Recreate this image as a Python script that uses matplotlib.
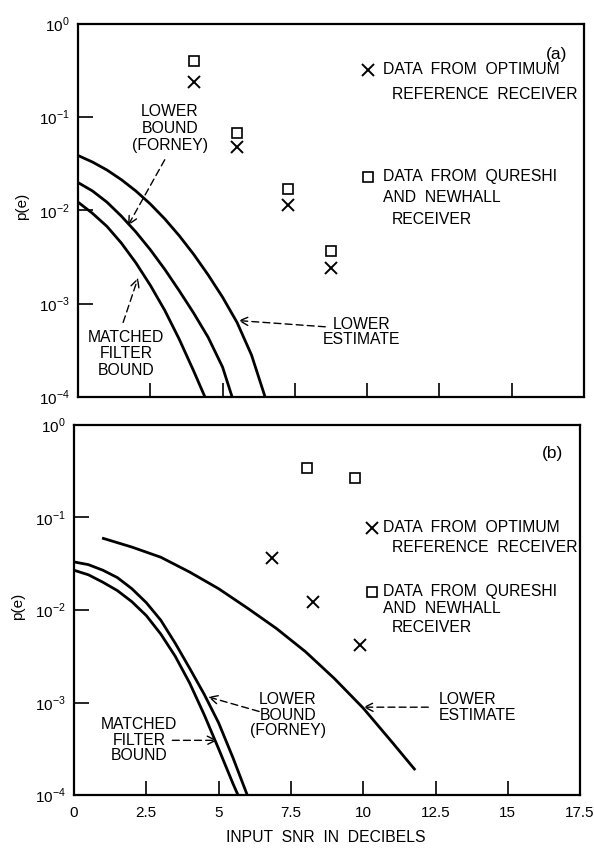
import matplotlib
matplotlib.use('Agg')
import matplotlib.pyplot as plt

plt.rcParams['font.family'] = ['Liberation Sans', 'DejaVu Sans']
plt.rcParams['mathtext.fontset'] = 'custom'
plt.rcParams['mathtext.rm'] = 'Liberation Sans'

# Panel (a) data
a_est_x = [0.0, 0.5, 1.0, 1.5, 2.0, 2.5, 3.0, 3.5, 4.0, 4.5, 5.0, 5.5, 6.0, 6.47]
a_est_p = [0.0389, 0.0331, 0.0272, 0.0214, 0.0162, 0.01175, 0.00813, 0.00537, 0.00339,
           0.00204, 0.001175, 6.3e-4, 2.82e-4, 1.0e-4]
a_forney_x = [0.0, 0.5, 1.0, 1.5, 2.0, 2.5, 3.0, 3.5, 4.0, 4.5, 5.0, 5.33]
a_forney_p = [0.01995, 0.0162, 0.0123, 0.0087, 0.00589, 0.0038, 0.00234, 0.00138, 7.94e-4,
              4.37e-4, 2.09e-4, 1.0e-4]
a_match_x = [0.0, 0.5, 1.0, 1.5, 2.0, 2.5, 3.0, 3.5, 4.0, 4.39]
a_match_p = [0.0123, 0.00933, 0.00676, 0.00447, 0.00275, 0.00158, 8.5e-4, 4.17e-4, 1.9e-4, 1.0e-4]
a_opt_x = [4.0, 5.5, 7.25, 8.75]
a_opt_p = [0.24, 0.048, 0.0115, 0.0024]
a_qn_x = [4.0, 5.5, 7.25, 8.75]
a_qn_p = [0.40, 0.067, 0.017, 0.0037]

# Panel (b) data
b_est_x = [0.97, 2.0, 3.0, 4.0, 5.0, 6.0, 7.0, 8.0, 9.0, 10.0, 11.0, 11.8]
b_est_p = [0.060, 0.0479, 0.0372, 0.0257, 0.0170, 0.01047, 0.00631, 0.00355, 0.00182,
           8.7e-4, 3.72e-4, 1.86e-4]
b_forney_x = [0.0, 0.5, 1.0, 1.5, 2.0, 2.5, 3.0, 3.5, 4.0, 4.5, 5.0, 5.5, 5.99]
b_forney_p = [0.0331, 0.0309, 0.0269, 0.0224, 0.0170, 0.0120, 0.00776, 0.00437, 0.00234,
              0.00123, 6.03e-4, 2.51e-4, 1.0e-4]
b_match_x = [0.0, 0.5, 1.0, 1.5, 2.0, 2.5, 3.0, 3.5, 4.0, 4.5, 5.0, 5.5, 5.67]
b_match_p = [0.0269, 0.024, 0.01995, 0.0162, 0.0123, 0.0087, 0.0055, 0.00316, 0.00162,
             7.4e-4, 3.16e-4, 1.32e-4, 1.0e-4]
b_opt_x = [6.85, 8.27, 9.9]
b_opt_p = [0.0365, 0.0122, 0.0042]
b_qn_x = [8.06, 9.72]
b_qn_p = [0.34, 0.27]

x_ticks = [0, 2.5, 5, 7.5, 10, 12.5, 15, 17.5]
x_tick_labels = ['0', '2.5', '5', '7.5', '10', '12.5', '15', '17.5']
y_ticks = [1e-4, 1e-3, 1e-2, 1e-1, 1e0]
y_tick_labels = [r'$10^{-4}$', r'$10^{-3}$', r'$10^{-2}$', r'$10^{-1}$', r'$10^{0}$']

FS = 11.3
arrow = dict(arrowstyle='->', color='black', lw=1.0, linestyle=(0, (5, 3)),
             shrinkA=0, shrinkB=0, mutation_scale=15)


def style_axes(ax, show_xlabels):
    ax.set_yscale('log')
    ax.set_xlim(0, 17.5)
    ax.set_ylim(1e-4, 1)
    ax.set_xticks(x_ticks)
    ax.set_xticklabels(x_tick_labels if show_xlabels else [])
    ax.set_yticks(y_ticks)
    ax.set_yticklabels(y_tick_labels)
    ax.minorticks_off()
    ax.tick_params(axis='both', direction='in', width=1.2, labelsize=11)
    ax.tick_params(axis='x', length=10, pad=8)
    ax.tick_params(axis='y', length=11, pad=6)
    for s in ax.spines.values():
        s.set_linewidth(1.6)
    ax.text(-0.11, 0.51, 'p(e)', transform=ax.transAxes, rotation=90,
            ha='center', va='center', fontsize=11)


def legend_block(ax, mx, lines_x, lines_sq):
    ax.plot([mx], [lines_x[0][1]], 'kx', ms=8, mew=1.4, transform=ax.transAxes, clip_on=False)
    ax.plot([mx], [lines_sq[0][1]], 's', ms=6.5, mfc='none', mec='black', mew=1.2,
            transform=ax.transAxes, clip_on=False)
    for x, y, s in lines_x + lines_sq:
        ax.text(x, y, s, transform=ax.transAxes, fontsize=FS, va='center', ha='left')


def draw_panel(ax, curves, opt_x, opt_p, qn_x, qn_p):
    for xs, ps in curves:
        ax.plot(xs, ps, color='black', lw=2.0, solid_capstyle='butt', solid_joinstyle='round')
    ax.plot(opt_x, opt_p, 'kx', ms=8, mew=1.4, ls='none')
    ax.plot(qn_x, qn_p, 's', ms=6.5, mfc='none', mec='black', mew=1.2, ls='none')


fig = plt.figure(figsize=(5.94, 8.51), dpi=100)

# ---- panel (a)
ax1 = fig.add_axes([0.1313, 0.5335, 0.852, 0.4383])
style_axes(ax1, False)
draw_panel(ax1, [(a_est_x, a_est_p), (a_forney_x, a_forney_p), (a_match_x, a_match_p)],
           a_opt_x, a_opt_p, a_qn_x, a_qn_p)
ax1.text(0.945, 0.917, '(a)', transform=ax1.transAxes, fontsize=12.5, ha='center', va='center')
legend_block(ax1, 0.573,
             [(0.603, 0.877, 'DATA  FROM  OPTIMUM'), (0.62, 0.81, 'REFERENCE  RECEIVER')],
             [(0.603, 0.59, 'DATA  FROM  QURESHI'), (0.603, 0.534, 'AND  NEWHALL'),
              (0.62, 0.475, 'RECEIVER')])
ax1.annotate('', xy=(1.73, 0.0069), xytext=(3.0, 0.035), arrowprops=arrow)
ax1.text(3.18, 0.076, 'LOWER\nBOUND\n(FORNEY)', ha='center', va='center', fontsize=FS,
         linespacing=1.15)
ax1.annotate('', xy=(2.08, 0.0019), xytext=(1.56, 6.3e-4), arrowprops=arrow)
ax1.text(1.66, 2.9e-4, 'MATCHED\nFILTER\nBOUND', ha='center', va='center', fontsize=FS,
         linespacing=1.12)
ax1.annotate('', xy=(5.54, 6.6e-4), xytext=(8.55, 5.66e-4), arrowprops=arrow)
ax1.text(9.8, 5.0e-4, 'LOWER\nESTIMATE', ha='center', va='center', fontsize=FS,
         linespacing=1.05)

# ---- panel (b)
ax2 = fig.add_axes([0.1246, 0.0658, 0.852, 0.4348])
style_axes(ax2, True)
draw_panel(ax2, [(b_est_x, b_est_p), (b_forney_x, b_forney_p), (b_match_x, b_match_p)],
           b_opt_x, b_opt_p, b_qn_x, b_qn_p)
ax2.text(0.945, 0.924, '(b)', transform=ax2.transAxes, fontsize=12.5, ha='center', va='center')
legend_block(ax2, 0.589,
             [(0.611, 0.722, 'DATA  FROM  OPTIMUM'), (0.628, 0.670, 'REFERENCE  RECEIVER')],
             [(0.611, 0.549, 'DATA  FROM  QURESHI'), (0.611, 0.503, 'AND  NEWHALL'),
              (0.628, 0.454, 'RECEIVER')])
ax2.annotate('', xy=(4.64, 1.15e-3), xytext=(6.4, 8.0e-4), arrowprops=arrow)
ax2.text(7.4, 7.3e-4, 'LOWER\nBOUND\n(FORNEY)', ha='center', va='center', fontsize=FS,
         linespacing=1.05)
ax2.annotate('', xy=(4.95, 3.9e-4), xytext=(3.4, 3.9e-4), arrowprops=arrow)
ax2.text(2.25, 3.9e-4, 'MATCHED\nFILTER\nBOUND', ha='center', va='center', fontsize=FS,
         linespacing=1.05)
ax2.annotate('', xy=(10.0, 8.9e-4), xytext=(12.25, 8.9e-4), arrowprops=arrow)
ax2.text(12.6, 8.9e-4, 'LOWER\nESTIMATE', ha='left', va='center', fontsize=FS,
         linespacing=1.1)
fig.text(0.549, 0.0153, 'INPUT  SNR  IN  DECIBELS', fontsize=FS, ha='center', va='center')

fig.savefig('out.png', dpi=100)
